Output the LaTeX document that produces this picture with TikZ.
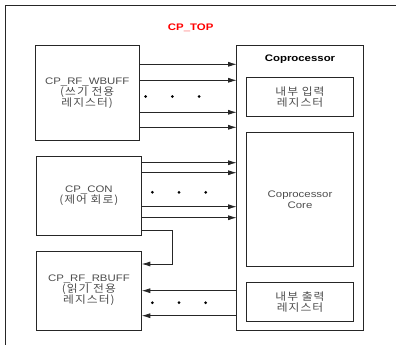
\documentclass[tikz,border=0pt]{standalone}
\usepackage{fontspec}
\setmainfont{Liberation Sans}[FakeStretch=1.2]
\newfontfamily\kor{Noto Sans CJK KR}[FakeStretch=1.12, LetterSpace=10]
\newcommand{\kr}[1]{{\kor\fontsize{10.5}{11}\selectfont #1}}
\usetikzlibrary{arrows.meta}

\begin{document}
\begin{tikzpicture}[
    x=1pt,
    y=-1pt,
    >={Latex[length=8.5pt,width=5pt]},
    block/.style={draw=black!85, line width=0.9pt, inner sep=0pt,
        outer sep=0pt, text=black!70, align=center},
    signal/.style={->, line width=0.8pt, draw=black!85},
    every node/.style={font=\fontsize{9.5}{11}\selectfont}
]

\useasboundingbox (0,0) rectangle (396,345);

% -------------------------------------------------
% Outer frame and title
% -------------------------------------------------

\draw[line width=1pt, black!85]
    (5,345) -- (5,6) -- (396,6);

\node[text=red, font=\fontsize{9.5}{11}\selectfont\bfseries]
    (cptop) at (190.7,27.7) {CP\_TOP};

% -------------------------------------------------
% Register blocks (left)
% -------------------------------------------------

\node[block, minimum width=104.3pt, minimum height=94.3pt]
    (wbuff) at (87.2,92.8)
    {CP\_RF\_WBUFF\\\kr{(쓰기 전용}\\\kr{레지스터)}};

\node[block, minimum width=105.7pt, minimum height=79pt]
    (con) at (88.9,195.5)
    {CP\_CON\\\kr{(제어 회로)}};

\node[block, minimum width=105.7pt, minimum height=79pt]
    (rbuff) at (88.9,290.5)
    {CP\_RF\_RBUFF\\\kr{(읽기 전용}\\\kr{레지스터)}};

% -------------------------------------------------
% Coprocessor
% -------------------------------------------------

\node[block, minimum width=126.6pt, minimum height=284.6pt]
    (cop) at (300,188) {};

\node[font=\fontsize{9.5}{11}\selectfont\bfseries]
    (coptitle) at (300,59.3) {Coprocessor};

\node[block, minimum width=106.6pt, minimum height=39.4pt]
    (inreg) at (300,97)
    {\kr{내부 입력}\\\kr{레지스터}};

\node[block, minimum width=106.6pt, minimum height=133.3pt]
    (core) at (300,199.3)
    {Coprocessor\\Core};

\node[block, minimum width=106.6pt, minimum height=39.4pt]
    (outreg) at (300,302)
    {\kr{내부 출력}\\\kr{레지스터}};

% -------------------------------------------------
% Signals
% -------------------------------------------------

% Write buffer to coprocessor
\foreach \y in {64.3,80.3,112.3,127.3}
    \draw[signal] (wbuff.east |- 0,\y) -- (cop.west |- 0,\y);

% Control to coprocessor
\foreach \y in {162.7,172.7,206.7,217.7}
    \draw[signal] (con.east |- 0,\y) -- (cop.west |- 0,\y);

% Coprocessor to read buffer
\foreach \y in {290.7,315.7}
    \draw[signal] (cop.west |- 0,\y) -- (rbuff.east |- 0,\y);

% Control to read buffer
\coordinate (bend) at (172.3,264);
\draw[signal]
    (con.east |- 0,230) -| (bend) -- (rbuff.east |- bend);

% Ellipsis dots
\foreach \x in {145.7,172.3,199}
    \fill (\x,96.5) circle (1.5pt);
\foreach \x in {152.3,179,205.7} {
    \fill (\x,192.3) circle (1.5pt);
    \fill (\x,302.7) circle (1.5pt);
}

\end{tikzpicture}
\end{document}
